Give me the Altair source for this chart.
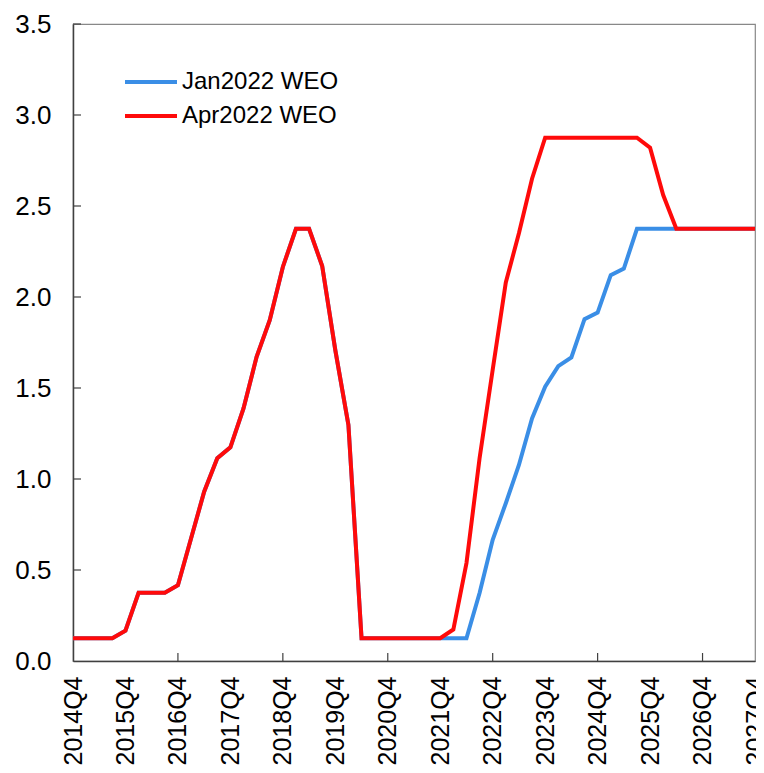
import altair as alt
import pandas as pd

# Quarterly axis: 2014Q4 .. 2027Q4
quarters = ["2014Q4"] + [f"{y}Q{q}" for y in range(2015, 2028) for q in range(1, 5)]

# Apr2022 WEO path
apr2022 = [
    0.125, 0.125, 0.125, 0.125, 0.167, 0.375, 0.375, 0.375, 0.416, 0.673,
    0.93, 1.114, 1.174, 1.388, 1.671, 1.872, 2.165, 2.375, 2.375, 2.17,
    1.708, 1.297, 0.125, 0.125, 0.125, 0.125, 0.125, 0.125, 0.125, 0.173,
    0.538, 1.114, 1.6, 2.08, 2.35, 2.65, 2.875, 2.875, 2.875, 2.875,
    2.875, 2.875, 2.875, 2.875, 2.82, 2.56, 2.375, 2.375, 2.375, 2.375,
    2.375, 2.375, 2.375,
]

# Jan2022 WEO path
jan2022 = [
    0.125, 0.125, 0.125, 0.125, 0.167, 0.375, 0.375, 0.375, 0.416, 0.673,
    0.93, 1.114, 1.174, 1.388, 1.671, 1.872, 2.165, 2.375, 2.375, 2.17,
    1.708, 1.297, 0.125, 0.125, 0.125, 0.125, 0.125, 0.125, 0.125, 0.125,
    0.125, 0.374, 0.666, 0.867, 1.077, 1.333, 1.507, 1.62, 1.668, 1.878,
    1.914, 2.12, 2.156, 2.375, 2.375, 2.375, 2.375, 2.375, 2.375, 2.375,
    2.375, 2.375, 2.375,
]

series_names = ["Jan2022 WEO", "Apr2022 WEO"]
series_colors = ["#3A8EE6", "#FF0A0A"]

x_labels = quarters[::4]
x_ticks = quarters[8:52:8]
y_ticks = [0.5, 1.0, 1.5, 2.0, 2.5, 3.0, 3.5]

df = pd.concat([
    pd.DataFrame({"quarter": quarters, "value": jan2022, "series": series_names[0], "order": 0}),
    pd.DataFrame({"quarter": quarters, "value": apr2022, "series": series_names[1], "order": 1}),
])

FONT = "Liberation Sans"

x_scale = alt.Scale(type="point", domain=quarters, padding=0)
y_scale = alt.Scale(domain=[0, 3.5], nice=False)
color_scale = alt.Scale(domain=series_names, range=series_colors)

x_axis = alt.Axis(
    values=x_labels, labelAngle=-90, labelAlign="right", labelBaseline="middle",
    labelFontSize=25, labelFont=FONT, labelColor="black", labelPadding=15,
    ticks=False, grid=False, domainColor="#404040", domainWidth=1.5, title=None,
)
y_axis = alt.Axis(
    values=[0, 0.5, 1.0, 1.5, 2.0, 2.5, 3.0, 3.5], format=".1f",
    labelFontSize=26, labelFont=FONT, labelColor="black", labelPadding=22,
    ticks=False, grid=False, domainColor="#404040", domainWidth=1.5, title=None,
)

lines = alt.Chart(df).mark_line(strokeWidth=4).encode(
    x=alt.X("quarter:O", scale=x_scale, axis=x_axis),
    y=alt.Y("value:Q", scale=y_scale, axis=y_axis),
    color=alt.Color("series:N", scale=color_scale, legend=None),
    detail="order:O",
)

# inward tick marks
xtick_layer = alt.Chart(pd.DataFrame({"quarter": x_ticks})).mark_rule(
    color="#404040", strokeWidth=1.2
).encode(
    x=alt.X("quarter:O", scale=x_scale, axis=x_axis),
    y=alt.value(637), y2=alt.value(629),
)
ytick_layer = alt.Chart(pd.DataFrame({"value": y_ticks})).mark_rule(
    color="#404040", strokeWidth=1.2
).encode(
    y=alt.Y("value:Q", scale=y_scale, axis=y_axis),
    x=alt.value(0), x2=alt.value(8),
)

# legend drawn by hand
legend_layers = []
for i, name in enumerate(series_names):
    ly = 58 + 34 * i
    ldf = pd.DataFrame({"series": [name]})
    legend_layers.append(
        alt.Chart(ldf).mark_rule(strokeWidth=4).encode(
            x=alt.value(52), x2=alt.value(104), y=alt.value(ly),
            color=alt.Color("series:N", scale=color_scale, legend=None),
        )
    )
    legend_layers.append(
        alt.Chart(ldf).mark_text(
            align="left", baseline="middle", font=FONT, fontSize=24, color="black"
        ).encode(
            x=alt.value(109), y=alt.value(ly), text="series:N",
        )
    )

chart = alt.layer(lines, xtick_layer, ytick_layer, *legend_layers).properties(
    width=682, height=637,
    autosize=alt.AutoSizeParams(type="none"),
    padding={"left": 65, "top": 16, "right": 1, "bottom": 104},
).configure_view(stroke="#888888", strokeWidth=1.2)

chart.save("out.html", embed_options={"renderer": "svg", "actions": False})
